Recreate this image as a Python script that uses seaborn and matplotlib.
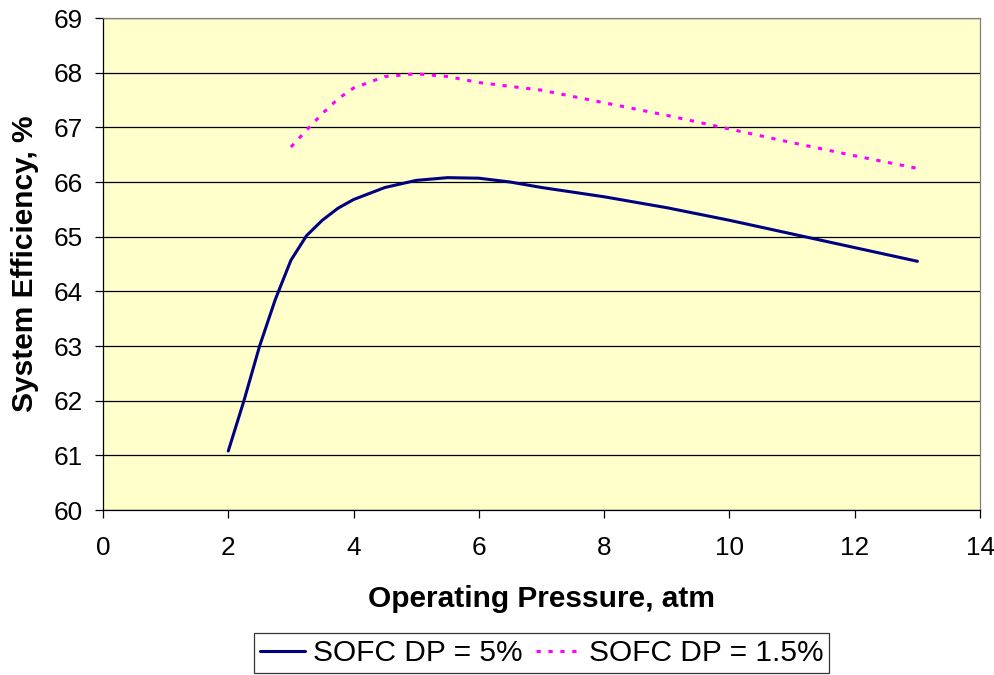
import pandas as pd
import matplotlib
matplotlib.use("Agg")
import matplotlib.pyplot as plt
import seaborn as sns

# values
pressure_5 = [2, 2.25, 2.5, 2.75, 3, 3.25, 3.5, 3.75, 4, 4.5, 5, 5.5, 6, 6.5, 7, 8, 9, 10, 11, 12, 13]
eff_5 = [61.08, 62.0, 63.0, 63.85, 64.57, 65.02, 65.3, 65.52, 65.68, 65.9, 66.03, 66.08, 66.07,
         66.0, 65.9, 65.73, 65.53, 65.3, 65.05, 64.8, 64.55]

pressure_15 = [3, 3.25, 3.5, 3.75, 4, 4.5, 5, 5.5, 6, 7, 8, 9, 10, 11, 12, 13]
eff_15 = [66.64, 66.95, 67.25, 67.52, 67.72, 67.93, 67.98, 67.93, 67.82, 67.68, 67.45, 67.22,
          66.97, 66.72, 66.48, 66.25]

labels = ["SOFC DP = 5%", "SOFC DP = 1.5%"]

df = pd.concat([
    pd.DataFrame({"Pressure": pressure_5, "Efficiency": eff_5, "Case": labels[0]}),
    pd.DataFrame({"Pressure": pressure_15, "Efficiency": eff_15, "Case": labels[1]}),
], ignore_index=True)

sns.set_style("white")
plt.rcParams["font.family"] = ["Liberation Sans", "DejaVu Sans"]
plt.rcParams["text.color"] = "black"
plt.rcParams["axes.labelcolor"] = "black"
plt.rcParams["xtick.color"] = "black"
plt.rcParams["ytick.color"] = "black"

fig = plt.figure(figsize=(9.95, 6.75), dpi=100)
ax = fig.add_axes([0.1035, 0.2444, 0.8815, 0.7289])
ax.set_facecolor("#FFFFCC")

sns.lineplot(data=df, x="Pressure", y="Efficiency", hue="Case", style="Case",
             palette={labels[0]: "#000080", labels[1]: "#FF00FF"},
             dashes={labels[0]: "", labels[1]: (1.4, 2.5)},
             linewidth=2.2, sort=False, ax=ax)

ax.set_xlim(0, 14)
ax.set_ylim(60, 69)
ax.set_xticks(range(0, 15, 2))
ax.set_yticks(range(60, 70))
ax.yaxis.grid(True, color="black", linewidth=0.9)
ax.set_axisbelow(True)
ax.tick_params(axis="both", labelsize=18.8, direction="out", length=5.5, width=0.9,
               color="black", bottom=True, left=True)
ax.tick_params(axis="x", pad=13.5)
ax.tick_params(axis="y", pad=9)
for side in ["left", "bottom"]:
    ax.spines[side].set_color("black")
    ax.spines[side].set_linewidth(0.9)
for side in ["top", "right"]:
    ax.spines[side].set_color("#808080")
    ax.spines[side].set_linewidth(0.9)

ax.set_xlabel("Operating Pressure, atm", fontsize=21.5, fontweight="bold", va="center")
ax.set_ylabel("System Efficiency, %", fontsize=21.5, fontweight="bold", va="center")
ax.xaxis.set_label_coords(0.5, -0.181)
ax.yaxis.set_label_coords(-0.089, 0.5)

leg = ax.legend(loc="upper center", bbox_to_anchor=(0.5, -0.25), ncol=2, fontsize=21.5,
                frameon=True, fancybox=False, edgecolor="black", handlelength=1.5,
                handletextpad=0.27, columnspacing=0.45, borderpad=0.2, borderaxespad=0)
leg.get_frame().set_linewidth(0.9)

fig.savefig("out.png", dpi=100)
